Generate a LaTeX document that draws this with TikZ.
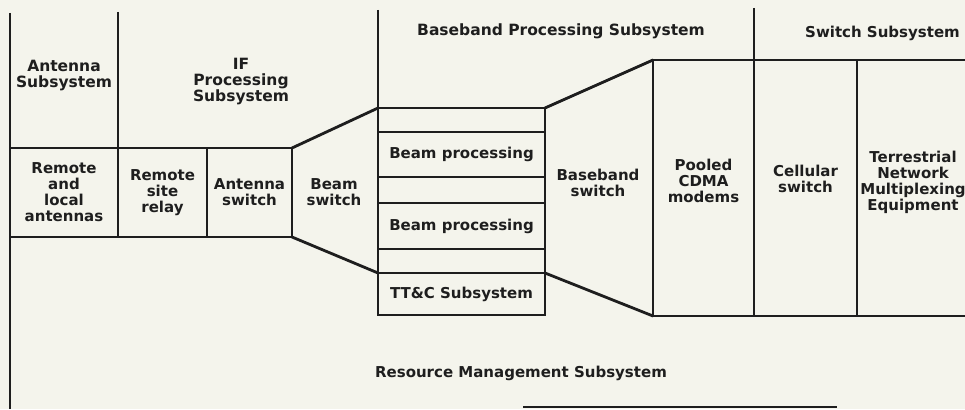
\documentclass[tikz,border=0pt]{standalone}
\usepackage{fontspec}
\setmainfont{DejaVu Sans}
\definecolor{paper}{RGB}{244,244,236}
\definecolor{ink}{RGB}{30,30,30}
\tikzset{
  txt/.style={font=\fontsize{15}{16}\selectfont\bfseries, align=center, inner sep=0pt, text=ink},
  head/.style={txt, font=\fontsize{15.5}{16}\selectfont\bfseries},
  box/.style={draw=ink, line width=1.5pt, inner sep=0pt, outer sep=0pt, txt},
  divider/.style={draw=ink, line width=1.5pt},
  slant/.style={draw=ink, line width=2.8pt, line cap=round}
}
\begin{document}
\begin{tikzpicture}[x=1pt,y=-1pt]
\useasboundingbox (0,0) rectangle (965,409);
\clip (0,0) rectangle (965,409);
\fill[paper] (0,0) rectangle (965,409);

% front-end boxes
\node[box, minimum width=108pt, minimum height=89pt] (ant) at (64,192.5) {Remote\\and\\local\\antennas};
\node[box, minimum width=89pt, minimum height=89pt] (relay) at (162.5,192.5) {Remote\\site\\relay};
\node[box, minimum width=85pt, minimum height=89pt] (antsw) at (249.5,192.5) {Antenna\\switch};

% baseband processing stack
\node[box, minimum width=167pt, minimum height=24pt] (r1) at (461.5,120) {};
\node[box, minimum width=167pt, minimum height=45pt] (bp1) at (461.5,154.5) {Beam processing};
\node[box, minimum width=167pt, minimum height=26pt] (r2) at (461.5,190) {};
\node[box, minimum width=167pt, minimum height=46pt] (bp2) at (461.5,226) {Beam processing};
\node[box, minimum width=167pt, minimum height=24pt] (r3) at (461.5,261) {};
\node[box, minimum width=167pt, minimum height=42pt] (ttc) at (461.5,294) {TT\&C Subsystem};

% right-hand columns
\node[box, minimum width=101pt, minimum height=256pt] (pool) at (703.5,188) {};
\node[box, minimum width=103pt, minimum height=256pt] (cell) at (805.5,188) {};
\node[box, minimum width=130pt, minimum height=256pt] (terr) at (922,188) {};
\node[txt] (poolt) at (703.5,181) {Pooled\\CDMA\\modems};
\node[txt] (cellt) at (805.5,178.5) {Cellular\\switch};
\node[txt] (terrt) at (913,182) {Terrestrial\\Network\\Multiplexing\\Equipment};

% switch trapezoids
\draw[slant] (antsw.north east) -- (r1.north west);
\draw[slant] (antsw.south east) -- (ttc.north west);
\draw[slant] (r1.north east) -- (pool.north west);
\draw[slant] (ttc.north east) -- (pool.south west);
\node[txt] (bsw) at (334,192) {Beam\\switch};
\node[txt] (bbsw) at (598,183) {Baseband\\switch};

% subsystem dividers
\coordinate (h1) at (10,13);
\coordinate (h2) at (118,12);
\coordinate (h3) at (378,10);
\coordinate (h4) at (754,8);
\coordinate (bl) at (10,409);
\draw[divider] (h1) -- (ant.north west);
\draw[divider] (ant.south west) -- (bl);
\draw[divider] (h2) -- (ant.north east);
\draw[divider] (h3) -- (r1.north west);
\draw[divider] (h4) -- (pool.north east);

\coordinate (b1) at (523,407);
\coordinate (b2) at (837,407);
\draw[divider] (b1) -- (b2);

% subsystem labels
\node[head] (hant) at (64,75.5) {Antenna\\Subsystem};
\node[head] (hif) at (241,81.5) {IF\\Processing\\Subsystem};
\node[head, anchor=west] (hbb) at (417,31) {Baseband Processing Subsystem};
\node[txt, anchor=west] (hsw) at (805,33) {Switch Subsystem};
\node[txt] (rm) at (521,373) {Resource Management Subsystem};
\end{tikzpicture}
\end{document}
